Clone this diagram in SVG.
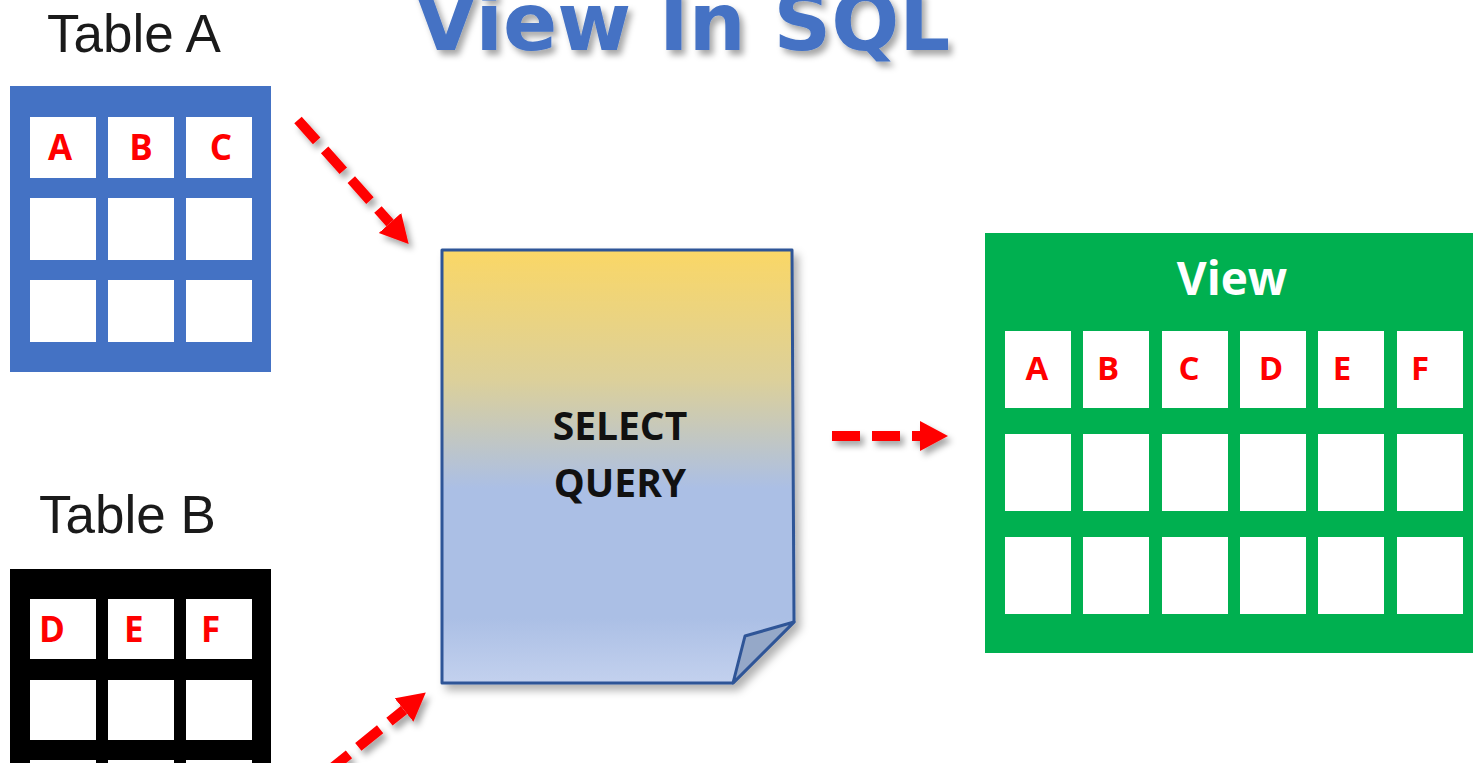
<svg xmlns="http://www.w3.org/2000/svg" width="1473" height="763" viewBox="0 0 1473 763">
<style>
.lbl{font-family:"Liberation Sans",Arial,sans-serif;font-size:53px;fill:#1a1a1a}
.cell{fill:#ffffff}
.ltr{font-family:"Open Sans","Liberation Sans",sans-serif;font-weight:700;font-size:35px;fill:#ff0000}
.vltr{font-family:"Open Sans","Liberation Sans",sans-serif;font-weight:700;font-size:33px;fill:#ff0000;text-anchor:middle}
.conn{fill:none;stroke:#ff0000;stroke-width:10;stroke-dasharray:28 12}
</style>
<defs>
<linearGradient id="docg" x1="0" y1="0" x2="0" y2="1">
<stop offset="0" stop-color="#fad766"/>
<stop offset="0.3" stop-color="#dcd09a"/>
<stop offset="0.55" stop-color="#abbfe5"/>
<stop offset="0.85" stop-color="#abbfe5"/>
<stop offset="1" stop-color="#c3d1ee"/>
</linearGradient>
<filter id="sh" x="-20%" y="-20%" width="150%" height="150%">
<feDropShadow dx="4" dy="5" stdDeviation="3" flood-color="#000" flood-opacity="0.35"/>
</filter>
<filter id="dsh" x="-10%" y="-10%" width="130%" height="130%">
<feDropShadow dx="5" dy="6" stdDeviation="4" flood-color="#000" flood-opacity="0.3"/>
</filter>
<marker id="ah" markerUnits="userSpaceOnUse" markerWidth="30" markerHeight="32" refX="0" refY="15" orient="auto" viewBox="0 0 30 32">
<path d="M0,0 L28,15 L0,30 z" fill="#ff0000"/>
</marker>
</defs>
<rect width="1473" height="763" fill="#ffffff"/>

<g id="title">
<text x="415" y="50" font-family="'DejaVu Sans',Verdana,sans-serif" font-weight="700" font-size="80" fill="#4472c4" filter="url(#sh)">View In SQL</text>
</g>

<g id="tableA">
<text class="lbl" x="47" y="52">Table A</text>
<rect x="10" y="86" width="261" height="286" fill="#4472c4"/>
<rect class="cell" x="30" y="117" width="66" height="61"/>
<rect class="cell" x="108" y="117" width="66" height="61"/>
<rect class="cell" x="186" y="117" width="66" height="61"/>
<rect class="cell" x="30" y="198" width="66" height="62"/>
<rect class="cell" x="108" y="198" width="66" height="62"/>
<rect class="cell" x="186" y="198" width="66" height="62"/>
<rect class="cell" x="30" y="280" width="66" height="62"/>
<rect class="cell" x="108" y="280" width="66" height="62"/>
<rect class="cell" x="186" y="280" width="66" height="62"/>
<text class="ltr" x="60" y="160" text-anchor="middle">A</text>
<text class="ltr" x="141" y="160" text-anchor="middle">B</text>
<text class="ltr" x="221" y="160" text-anchor="middle">C</text>
</g>

<g id="tableB">
<text class="lbl" x="39" y="533">Table B</text>
<rect x="10" y="569" width="261" height="286" fill="#000000"/>
<rect class="cell" x="30" y="599" width="66" height="60"/>
<rect class="cell" x="108" y="599" width="66" height="60"/>
<rect class="cell" x="186" y="599" width="66" height="60"/>
<rect class="cell" x="30" y="680" width="66" height="60"/>
<rect class="cell" x="108" y="680" width="66" height="60"/>
<rect class="cell" x="186" y="680" width="66" height="60"/>
<rect class="cell" x="30" y="760" width="66" height="60"/>
<rect class="cell" x="108" y="760" width="66" height="60"/>
<rect class="cell" x="186" y="760" width="66" height="60"/>
<text class="ltr" x="39" y="642">D</text>
<text class="ltr" x="124" y="642">E</text>
<text class="ltr" x="201" y="642">F</text>
</g>

<g id="query">
<path d="M442,250 L792,250 L794,622 L733,683 L442,683 Z" fill="url(#docg)" stroke="#2f5597" stroke-width="3" stroke-linejoin="round" filter="url(#dsh)"/>
<path d="M794,622 L745,636 L733,683 Z" fill="#95a8c8" stroke="#2f5597" stroke-width="3" stroke-linejoin="round"/>
<text x="620" y="440" text-anchor="middle" font-family="'Open Sans','Liberation Sans',sans-serif" font-weight="700" font-size="39" fill="#111">SELECT</text>
<text x="620" y="497" text-anchor="middle" font-family="'Open Sans','Liberation Sans',sans-serif" font-weight="700" font-size="39" fill="#111">QUERY</text>
</g>

<g id="view">
<rect x="985" y="233" width="500" height="420" fill="#00b050"/>
<text x="1232" y="295" text-anchor="middle" font-family="'Open Sans','Liberation Sans',sans-serif" font-weight="700" font-size="46" fill="#ffffff">View</text>
<g>
<rect class="cell" x="1005" y="331" width="66" height="77"/>
<rect class="cell" x="1083" y="331" width="66" height="77"/>
<rect class="cell" x="1162" y="331" width="66" height="77"/>
<rect class="cell" x="1240" y="331" width="66" height="77"/>
<rect class="cell" x="1318" y="331" width="66" height="77"/>
<rect class="cell" x="1397" y="331" width="66" height="77"/>
<rect class="cell" x="1005" y="434" width="66" height="77"/>
<rect class="cell" x="1083" y="434" width="66" height="77"/>
<rect class="cell" x="1162" y="434" width="66" height="77"/>
<rect class="cell" x="1240" y="434" width="66" height="77"/>
<rect class="cell" x="1318" y="434" width="66" height="77"/>
<rect class="cell" x="1397" y="434" width="66" height="77"/>
<rect class="cell" x="1005" y="537" width="66" height="77"/>
<rect class="cell" x="1083" y="537" width="66" height="77"/>
<rect class="cell" x="1162" y="537" width="66" height="77"/>
<rect class="cell" x="1240" y="537" width="66" height="77"/>
<rect class="cell" x="1318" y="537" width="66" height="77"/>
<rect class="cell" x="1397" y="537" width="66" height="77"/>
</g>
<text class="vltr" x="1037" y="380">A</text>
<text class="vltr" x="1108" y="380">B</text>
<text class="vltr" x="1189" y="380">C</text>
<text class="vltr" x="1271" y="380">D</text>
<text class="vltr" x="1342" y="380">E</text>
<text class="vltr" x="1420" y="380">F</text>
</g>

<g id="connectors" filter="url(#sh)">
<path class="conn" d="M298,120 L390,223" marker-end="url(#ah)"/>
<path class="conn" d="M296,797 L404,710" marker-end="url(#ah)"/>
<path class="conn" d="M832,436 L920,436" marker-end="url(#ah)"/>
</g>
</svg>
